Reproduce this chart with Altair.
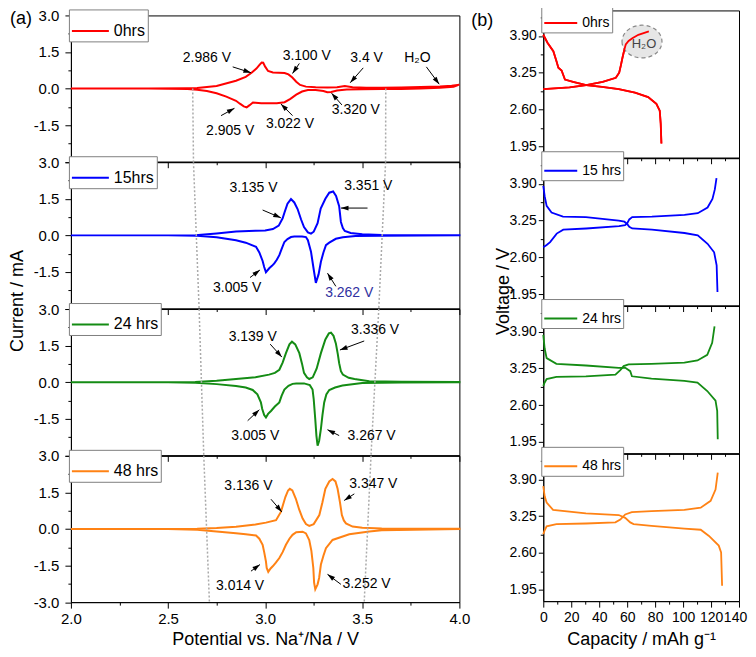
import math
import altair as alt
import pandas as pd

FONT = "Liberation Sans"
W_L, H_L = 389, 146.5
W_R, H_R = 196, 147.5

CV_LABELS = ["0hrs", "15hrs", "24 hrs", "48 hrs"]
GCD_LABELS = ["0hrs", "15 hrs", "24 hrs", "48 hrs"]
COLORS = ["#ff0000", "#0000ff", "#148c14", "#ff8214"]

# ---------------- CV curves (potential V, current mA) ----------------
cv0_up_v = [2.0, 2.4, 2.6, 2.65, 2.75, 2.85, 2.9, 2.93, 2.955, 2.972, 2.982, 2.99, 3.0, 3.015, 3.04, 3.07, 3.1, 3.12, 3.14, 3.16, 3.18, 3.21, 3.26, 3.32, 3.37, 3.41, 3.45, 3.52, 3.6, 3.7, 3.8, 3.9, 3.96, 4.0]
cv0_up_i = [0, 0, 0.01, 0.02, 0.11, 0.32, 0.48, 0.65, 0.82, 0.98, 1.07, 1.06, 0.9, 0.72, 0.66, 0.65, 0.64, 0.58, 0.45, 0.28, 0.15, 0.08, 0.05, 0.04, 0.05, 0.1, 0.05, 0.03, 0.03, 0.04, 0.06, 0.09, 0.12, 0.16]
cv0_dn_v = [4.0, 3.97, 3.9, 3.8, 3.7, 3.6, 3.5, 3.42, 3.37, 3.34, 3.32, 3.3, 3.26, 3.22, 3.19, 3.16, 3.13, 3.1, 3.06, 3.02, 2.98, 2.95, 2.937, 2.92, 2.905, 2.89, 2.87, 2.85, 2.8, 2.75, 2.7, 2.65, 2.6, 2.4, 2.0]
cv0_dn_i = [0.16, 0.07, 0.03, 0, -0.02, -0.02, -0.03, -0.04, -0.08, -0.14, -0.15, -0.1, -0.06, -0.06, -0.12, -0.25, -0.42, -0.56, -0.6, -0.6, -0.6, -0.58, -0.57, -0.68, -0.77, -0.73, -0.62, -0.5, -0.33, -0.19, -0.1, -0.05, -0.02, 0, 0]

cv1_up_v = [2.0, 2.5, 2.64, 2.75, 2.85, 2.95, 3.0, 3.04, 3.07, 3.09, 3.10, 3.115, 3.133, 3.15, 3.167, 3.185, 3.20, 3.22, 3.236, 3.25, 3.27, 3.286, 3.31, 3.33, 3.35, 3.365, 3.381, 3.39, 3.40, 3.41, 3.44, 3.5, 3.6, 3.8, 4.0]
cv1_up_i = [0, 0, 0.01, 0.08, 0.16, 0.19, 0.2, 0.26, 0.4, 0.7, 0.95, 1.3, 1.49, 1.35, 1.08, 0.65, 0.34, 0.12, 0.07, 0.15, 0.5, 1.1, 1.5, 1.75, 1.8, 1.62, 1.2, 0.55, 0.3, 0.18, 0.1, 0.05, 0.02, 0.01, 0.01]
cv1_dn_v = [4.0, 3.8, 3.6, 3.465, 3.40, 3.364, 3.33, 3.313, 3.3, 3.287, 3.275, 3.261, 3.25, 3.236, 3.22, 3.21, 3.19, 3.15, 3.133, 3.115, 3.099, 3.085, 3.073, 3.06, 3.047, 3.035, 3.021, 3.004, 2.995, 2.987, 2.97, 2.953, 2.9, 2.85, 2.75, 2.65, 2.5, 2.0]
cv1_dn_i = [0, -0.01, -0.02, -0.03, -0.08, -0.14, -0.3, -0.4, -0.7, -1.08, -1.6, -1.95, -1.4, -0.67, -0.2, -0.07, -0.05, -0.05, -0.07, -0.15, -0.27, -0.55, -0.81, -1.0, -1.15, -1.25, -1.35, -1.51, -1.3, -1.05, -0.7, -0.47, -0.3, -0.2, -0.08, -0.02, 0, 0]

cv2_up_v = [2.0, 2.5, 2.64, 2.75, 2.85, 2.95, 3.02, 3.05, 3.073, 3.09, 3.107, 3.125, 3.138, 3.155, 3.176, 3.19, 3.20, 3.215, 3.227, 3.245, 3.265, 3.287, 3.31, 3.328, 3.339, 3.352, 3.364, 3.374, 3.381, 3.39, 3.40, 3.43, 3.46, 3.536, 3.7, 4.0]
cv2_up_i = [0, 0, 0.01, 0.06, 0.13, 0.2, 0.31, 0.38, 0.51, 0.8, 1.19, 1.55, 1.66, 1.55, 1.19, 0.75, 0.38, 0.2, 0.13, 0.2, 0.55, 1.19, 1.75, 2.0, 2.03, 1.9, 1.59, 1.15, 0.78, 0.45, 0.31, 0.18, 0.13, 0.04, 0.02, 0.01]
cv2_dn_v = [4.0, 3.7, 3.5, 3.398, 3.36, 3.33, 3.315, 3.304, 3.295, 3.287, 3.278, 3.27, 3.264, 3.258, 3.25, 3.244, 3.23, 3.2, 3.16, 3.141, 3.12, 3.099, 3.085, 3.073, 3.05, 3.03, 3.015, 3.004, 2.995, 2.985, 2.978, 2.96, 2.936, 2.9, 2.85, 2.75, 2.64, 2.5, 2.0]
cv2_dn_i = [0, -0.01, -0.03, -0.14, -0.22, -0.32, -0.5, -0.83, -1.35, -1.92, -2.4, -2.6, -2.2, -1.52, -0.7, -0.3, -0.12, -0.05, -0.05, -0.07, -0.15, -0.3, -0.55, -0.83, -1.0, -1.18, -1.3, -1.45, -1.35, -1.1, -0.83, -0.5, -0.32, -0.22, -0.16, -0.08, -0.02, 0, 0]

cv3_up_v = [2.0, 2.5, 2.65, 2.75, 2.85, 2.95, 3.004, 3.056, 3.081, 3.104, 3.118, 3.127, 3.14, 3.158, 3.175, 3.193, 3.21, 3.227, 3.25, 3.279, 3.295, 3.31, 3.33, 3.347, 3.362, 3.373, 3.385, 3.395, 3.405, 3.416, 3.45, 3.5, 3.6, 4.0]
cv3_up_i = [0, 0, 0.01, 0.04, 0.09, 0.18, 0.26, 0.36, 0.7, 1.31, 1.58, 1.65, 1.58, 1.24, 0.8, 0.43, 0.2, 0.13, 0.2, 0.57, 1.1, 1.65, 1.95, 2.05, 1.95, 1.65, 1.1, 0.57, 0.35, 0.23, 0.1, 0.05, 0.02, 0.01]
cv3_dn_v = [4.0, 3.6, 3.536, 3.433, 3.347, 3.313, 3.3, 3.287, 3.278, 3.27, 3.258, 3.252, 3.248, 3.238, 3.227, 3.21, 3.193, 3.16, 3.141, 3.125, 3.107, 3.09, 3.073, 3.055, 3.039, 3.028, 3.016, 3.008, 3.004, 2.995, 2.987, 2.97, 2.953, 2.9, 2.85, 2.75, 2.65, 2.5, 2.0]
cv3_dn_i = [0, -0.05, -0.1, -0.22, -0.45, -0.79, -1.1, -1.46, -2.0, -2.27, -2.47, -2.2, -1.6, -0.9, -0.45, -0.18, -0.11, -0.13, -0.24, -0.4, -0.65, -0.95, -1.19, -1.38, -1.53, -1.62, -1.76, -1.6, -1.33, -0.95, -0.65, -0.4, -0.27, -0.22, -0.18, -0.1, -0.03, 0, 0]

CV = [
    (cv0_up_v, cv0_up_i, cv0_dn_v, cv0_dn_i),
    (cv1_up_v, cv1_up_i, cv1_dn_v, cv1_dn_i),
    (cv2_up_v, cv2_up_i, cv2_dn_v, cv2_dn_i),
    (cv3_up_v, cv3_up_i, cv3_dn_v, cv3_dn_i),
]

# ---------------- charge / discharge curves (mAh/g, V) ----------------
g0_ch_c = [0, 18.8, 30.7, 42.5, 51.9, 54.3, 55.5, 56.6, 58, 59, 61, 63.7, 68, 75.5]
g0_ch_v = [2.96, 2.99, 3.03, 3.09, 3.16, 3.25, 3.38, 3.51, 3.66, 3.75, 3.81, 3.86, 3.92, 3.98]
g0_dc_c = [0, 3, 7.2, 9.5, 10.8, 13.1, 15.5, 21.3, 30.7, 42, 54, 65.6, 75, 80.9, 83.3, 84, 84.5]
g0_dc_v = [3.92, 3.78, 3.63, 3.45, 3.34, 3.29, 3.13, 3.09, 3.03, 3.0, 2.96, 2.9, 2.82, 2.70, 2.58, 2.35, 2.0]

g1_ch_c = [0, 2.4, 4.9, 9.6, 14.3, 30.7, 54.2, 58.5, 60, 61.5, 63.6, 77.7, 101, 110.5, 117.5, 121, 122.7, 123.9]
g1_ch_v = [2.78, 2.82, 2.87, 3.02, 3.09, 3.11, 3.15, 3.17, 3.2, 3.27, 3.31, 3.32, 3.35, 3.38, 3.48, 3.63, 3.80, 4.0]
g1_dc_c = [0, 1, 2.4, 5.9, 14.1, 30.5, 54, 58, 60, 61.5, 63.6, 77.7, 101, 110.5, 117.5, 122.2, 124, 124.6]
g1_dc_v = [3.86, 3.68, 3.51, 3.39, 3.32, 3.31, 3.25, 3.23, 3.19, 3.14, 3.11, 3.09, 3.03, 2.99, 2.84, 2.69, 2.46, 1.99]

g2_ch_c = [0, 1, 2.4, 9.4, 30.5, 51.6, 55.1, 57.5, 61, 77.4, 100.9, 110.3, 117.3, 120.8, 122.5]
g2_ch_v = [2.94, 3.0, 3.06, 3.10, 3.11, 3.14, 3.22, 3.29, 3.32, 3.33, 3.35, 3.39, 3.49, 3.70, 3.99]
g2_dc_c = [0, 1, 2.4, 9.4, 30.5, 54, 58.7, 62.2, 63.4, 77.4, 100.9, 110.3, 117.3, 123.2, 124.4, 124.8]
g2_dc_v = [3.84, 3.6, 3.43, 3.33, 3.30, 3.26, 3.26, 3.20, 3.11, 3.07, 3.03, 3.0, 2.85, 2.68, 2.50, 2.0]

g3_ch_c = [0, 1, 2.4, 9.4, 30.5, 51.6, 55.1, 58.6, 63.3, 77.4, 100.9, 112.6, 119.7, 123.2, 124.8]
g3_ch_v = [2.93, 3.0, 3.07, 3.11, 3.12, 3.14, 3.19, 3.28, 3.32, 3.34, 3.36, 3.40, 3.52, 3.72, 4.02]
g3_dc_c = [0, 1, 2.4, 7, 30.5, 54, 58.6, 62.2, 64.6, 77.4, 100.9, 112.6, 118.5, 125.5, 127.2, 127.9]
g3_dc_v = [3.78, 3.6, 3.49, 3.36, 3.30, 3.27, 3.22, 3.14, 3.11, 3.08, 3.03, 3.01, 2.90, 2.73, 2.61, 2.02]

GCD = [
    (g0_ch_c, g0_ch_v, g0_dc_c, g0_dc_v),
    (g1_ch_c, g1_ch_v, g1_dc_c, g1_dc_v),
    (g2_ch_c, g2_ch_v, g2_dc_c, g2_dc_v),
    (g3_ch_c, g3_ch_v, g3_dc_c, g3_dc_v),
]

# ---------------- peak annotations ----------------
# (text, text V, text I, arrow tail V, tail I, arrow head V, head I, text colour)
NOTES = [
    [("2.986 V", 2.70, 1.27, 2.833, 0.89, 2.927, 0.65, "black"),
     ("3.100 V", 3.214, 1.35, 3.176, 1.03, 3.141, 0.62, "black"),
     ("3.4 V", 3.522, 1.26, 3.505, 0.85, 3.438, 0.24, "black"),
     ("H\u2082O", 3.784, 1.26, 3.83, 0.89, 3.896, 0.18, "black"),
     ("2.905 V", 2.82, -1.76, 2.773, -1.11, 2.842, -0.81, "black"),
     ("3.022 V", 3.128, -1.44, 3.141, -1.11, 3.081, -0.63, "black"),
     ("3.320 V", 3.467, -0.86, 3.395, -0.67, 3.342, -0.19, "black")],
    [("3.135 V", 2.94, 1.96, 2.987, 1.04, 3.081, 0.72, "black"),
     ("3.351 V", 3.531, 2.03, 3.527, 1.12, 3.39, 1.12, "black"),
     ("3.005 V", 2.856, -2.16, 2.922, -1.73, 2.973, -1.42, "black"),
     ("3.262 V", 3.433, -2.36, 3.364, -2.09, 3.321, -1.55, "#3030a0")],
    [("3.139 V", 2.936, 1.86, 3.026, 1.56, 3.086, 1.03, "black"),
     ("3.336 V", 3.566, 2.13, 3.51, 1.69, 3.385, 1.32, "black"),
     ("3.005 V", 2.949, -2.19, 2.91, -1.58, 2.97, -1.13, "black"),
     ("3.267 V", 3.548, -2.19, 3.381, -2.19, 3.321, -1.95, "black")],
    [("3.136 V", 2.914, 1.78, 3.03, 1.22, 3.086, 0.7, "black"),
     ("3.347 V", 3.557, 1.85, 3.459, 1.44, 3.407, 1.17, "black"),
     ("3.014 V", 2.871, -2.34, 2.927, -1.73, 2.973, -1.46, "black"),
     ("3.252 V", 3.522, -2.27, 3.39, -2.27, 3.321, -1.86, "black")],
]

# dotted guide lines across the stacked CV panels (stack coordinate = I - 6*panel)
GUIDE_G = [0, -3, -9, -15, -21]
GUIDE_LEFT = [2.627, 2.631, 2.66, 2.684, 2.713]
GUIDE_RIGHT = [3.621, 3.62, 3.585, 3.545, 3.51]

X_CV_TICKS = [2 + 0.25 * j for j in range(9)]
Y_CV_TICKS = [-3 + 0.75 * j for j in range(9)]
X_R_TICKS = list(range(0, 141, 10))
Y_R_TICKS = [1.95 + 0.325 * j for j in range(8)]

ARROW = "M0,0L0.32,1L-0.32,1Z"

XS_CV = alt.Scale(domain=[2, 4], nice=False, zero=False)
YS_CV = alt.Scale(domain=[-3, 3], nice=False, zero=False)
XS_R = alt.Scale(domain=[0, 140], nice=False, zero=False)
YS_R = alt.Scale(domain=[1.75, 4.35], nice=False, zero=False)


def legend(size, fsize, dx, dy):
    return alt.Legend(orient="none", legendX=dx, legendY=dy, title=None, symbolType="stroke",
                      symbolSize=size, symbolStrokeWidth=2, labelFont=FONT,
                      labelFontSize=fsize, labelColor="black", padding=2,
                      strokeColor="#808080", fillColor="white", cornerRadius=0,
                      labelLimit=300)


def cv_panel(k):
    up_v, up_i, dn_v, dn_i = CV[k]
    v = list(up_v) + list(dn_v)
    cur = list(up_i) + list(dn_i)
    df = pd.DataFrame({"V": v, "I": cur, "o": list(range(len(v))), "label": CV_LABELS[k]})
    bottom = k == 3
    mx = "abs(datum.value*2 - round(datum.value*2)) < 0.001"
    my = "abs(datum.value/1.5 - round(datum.value/1.5)) < 0.001"
    ycond = my if bottom else f"{my} && datum.value > -2.9"
    xaxis = alt.Axis(values=X_CV_TICKS, labels=bottom, labelFlush=False, labelOverlap=False,
                     labelExpr=f"{mx} ? format(datum.value, '.1f') : ''",
                     tickSize={"condition": {"test": mx, "value": 6}, "value": 3},
                     labelFontSize=15, labelPadding=3,
                     title="Potential vs. Na\u207a/Na / V" if bottom else None,
                     titleFontSize=18, titleY=37, titleBaseline="middle")
    yaxis = alt.Axis(values=Y_CV_TICKS, labelOverlap=False,
                     labelExpr=f"({ycond}) ? (datum.value < 0 ? '-' : '') + format(abs(datum.value), '.1f') : ''",
                     tickSize={"condition": {"test": my, "value": 6}, "value": 3},
                     labelFontSize=15, labelPadding=6,
                     title="Current / mA" if k == 1 else None,
                     titleFontSize=18, titleX=-53, titleY=H_L - 8, titleBaseline="middle")
    X = lambda f: alt.X(f, scale=XS_CV, axis=xaxis)
    Y = lambda f: alt.Y(f, scale=YS_CV, axis=yaxis)
    line = alt.Chart(df).mark_line(strokeWidth=2).encode(
        x=X("V:Q"), y=Y("I:Q"), order="o:Q",
        color=alt.Color("label:N", scale=alt.Scale(domain=[CV_LABELS[k]], range=[COLORS[k]]),
                        legend=legend(1369, 16, -2, -6)),
    )
    # guides
    rows = []
    top, bot = 3 - 6 * k, -3 - 6 * k
    for xs in (GUIDE_LEFT, GUIDE_RIGHT):
        for j in range(len(GUIDE_G) - 1):
            ga, gb = GUIDE_G[j], GUIDE_G[j + 1]
            if gb >= bot - 1e-9 and ga <= top + 1e-9:
                rows.append({"V": xs[j], "I": ga + 6 * k, "V2": xs[j + 1], "I2": gb + 6 * k})
    gdf = pd.DataFrame(rows)
    guides = alt.Chart(gdf).mark_rule(color="#aaaaaa", strokeDash=[2, 2], strokeWidth=1.5).encode(
        x=X("V:Q"), y=Y("I:Q"), x2="V2:Q", y2="I2:Q")
    # annotations
    sx, sy = W_L / 2, H_L / 6
    nrows = []
    for t, tx, ty, x1, y1, x2, y2, c in NOTES[k]:
        ang = math.degrees(math.atan2((x2 - x1) * sx, (y2 - y1) * sy)) % 360
        nrows.append(dict(t=t, tx=tx, ty=ty, x1=x1, y1=y1, x2=x2, y2=y2, ang=ang, tc=c))
    ndf = pd.DataFrame(nrows)
    arrows = alt.Chart(ndf).mark_rule(color="black", strokeWidth=1).encode(
        x=X("x1:Q"), y=Y("y1:Q"), x2="x2:Q", y2="y2:Q")
    heads = alt.Chart(ndf).mark_point(shape=ARROW, size=230, filled=True, color="black",
                                      opacity=1, strokeWidth=0).encode(
        x=X("x2:Q"), y=Y("y2:Q"), angle=alt.Angle("ang:Q", scale=None))
    texts = alt.Chart(ndf).mark_text(font=FONT, fontSize=14).encode(
        x=X("tx:Q"), y=Y("ty:Q"), text="t:N", color=alt.Color("tc:N", scale=None))
    layers = [line, guides, arrows, heads, texts]
    if k == 0:
        tag = alt.Chart(pd.DataFrame({"t": ["(a)"]})).mark_text(font=FONT, fontSize=18).encode(
            x=alt.value(-50), y=alt.value(4), text="t:N")
        layers.append(tag)
    return alt.layer(*layers).properties(width=W_L, height=H_L)


def gcd_panel(k):
    ch_c, ch_v, dc_c, dc_v = GCD[k]
    df = pd.concat([
        pd.DataFrame({"C": ch_c, "U": ch_v, "seg": "charge"}),
        pd.DataFrame({"C": dc_c, "U": dc_v, "seg": "discharge"}),
    ])
    df["label"] = GCD_LABELS[k]
    bottom = k == 3
    mx = "datum.value % 20 == 0"
    my = "round((datum.value - 1.95) / 0.325) % 2 == 0"
    xaxis = alt.Axis(values=X_R_TICKS, labels=bottom, labelFlush=False, labelOverlap=False,
                     labelExpr=f"{mx} ? format(datum.value, 'd') : ''",
                     labelOffset={"condition": {"test": "datum.value == 140", "value": -4}, "value": 0},
                     tickSize={"condition": {"test": mx, "value": 6}, "value": 3},
                     labelFontSize=14, labelPadding=3,
                     title="Capacity / mAh g\u207b\u00b9" if bottom else None,
                     titleFontSize=18, titleY=38, titleBaseline="middle")
    yaxis = alt.Axis(values=Y_R_TICKS, labelOverlap=False,
                     labelExpr=f"{my} ? format(datum.value, '.2f') : ''",
                     tickSize={"condition": {"test": my, "value": 5}, "value": 3},
                     labelFontSize=14, labelPadding=2,
                     title="Voltage / V" if k == 1 else None,
                     titleFontSize=18, titleX=-40, titleY=133, titleBaseline="middle")
    X = lambda f: alt.X(f, scale=XS_R, axis=xaxis)
    Y = lambda f: alt.Y(f, scale=YS_R, axis=yaxis)
    line = alt.Chart(df).mark_line(strokeWidth=1.8).encode(
        x=X("C:Q"), y=Y("U:Q"), detail="seg:N",
        color=alt.Color("label:N", scale=alt.Scale(domain=[GCD_LABELS[k]], range=[COLORS[k]]),
                        legend=legend(1089, 14, -2, -7)),
    )
    layers = [line]
    if k == 0:
        bub = pd.DataFrame({"C": [70.6], "U": [3.80], "t": ["H\u2082O"]})
        ell = alt.Chart(bub).mark_point(
            shape="M-1,0A1,0.82 0 1,0 1,0A1,0.82 0 1,0 -1,0Z", size=1600, filled=True,
            fill="#e6e6e6", stroke="#888888", strokeDash=[4, 3], strokeWidth=1.2, opacity=1
        ).encode(x=X("C:Q"), y=Y("U:Q"))
        htxt = alt.Chart(bub).mark_text(font=FONT, fontSize=13, color="#444444", dx=2, dy=2).encode(
            x=X("C:Q"), y=Y("U:Q"), text="t:N")
        tag = alt.Chart(pd.DataFrame({"t": ["(b)"]})).mark_text(font=FONT, fontSize=18).encode(
            x=alt.value(-61), y=alt.value(11), text="t:N")
        layers = [line, ell, line, htxt, tag]
    return alt.layer(*layers).properties(width=W_R, height=H_R)


spacer = alt.Chart(pd.DataFrame({"a": [0]})).mark_point(opacity=0, size=1).encode(
    x=alt.value(0), y=alt.value(0)
).properties(width=W_L, height=5, view=alt.ViewBackground(stroke="transparent"))

left = alt.vconcat(spacer, *[cv_panel(k) for k in range(4)], spacing=0, bounds="flush"
                   ).resolve_scale(color="independent")
right = alt.vconcat(*[gcd_panel(k) for k in range(4)], spacing=0, bounds="flush"
                    ).resolve_scale(color="independent")

chart = alt.hconcat(left, right, spacing=0).resolve_scale(
    color="independent"
).properties(padding={"left": 0, "top": -6, "right": 0, "bottom": 0}).configure_view(
    stroke="black", strokeWidth=1
).configure_axis(
    labelFont=FONT, titleFont=FONT, labelColor="black", titleColor="black",
    tickColor="black", domainColor="black", titleFontWeight="normal", grid=False,
    domainWidth=1, tickWidth=1
).configure_text(font=FONT)

chart.save("out.html", embed_options={"renderer": "svg", "actions": False})
